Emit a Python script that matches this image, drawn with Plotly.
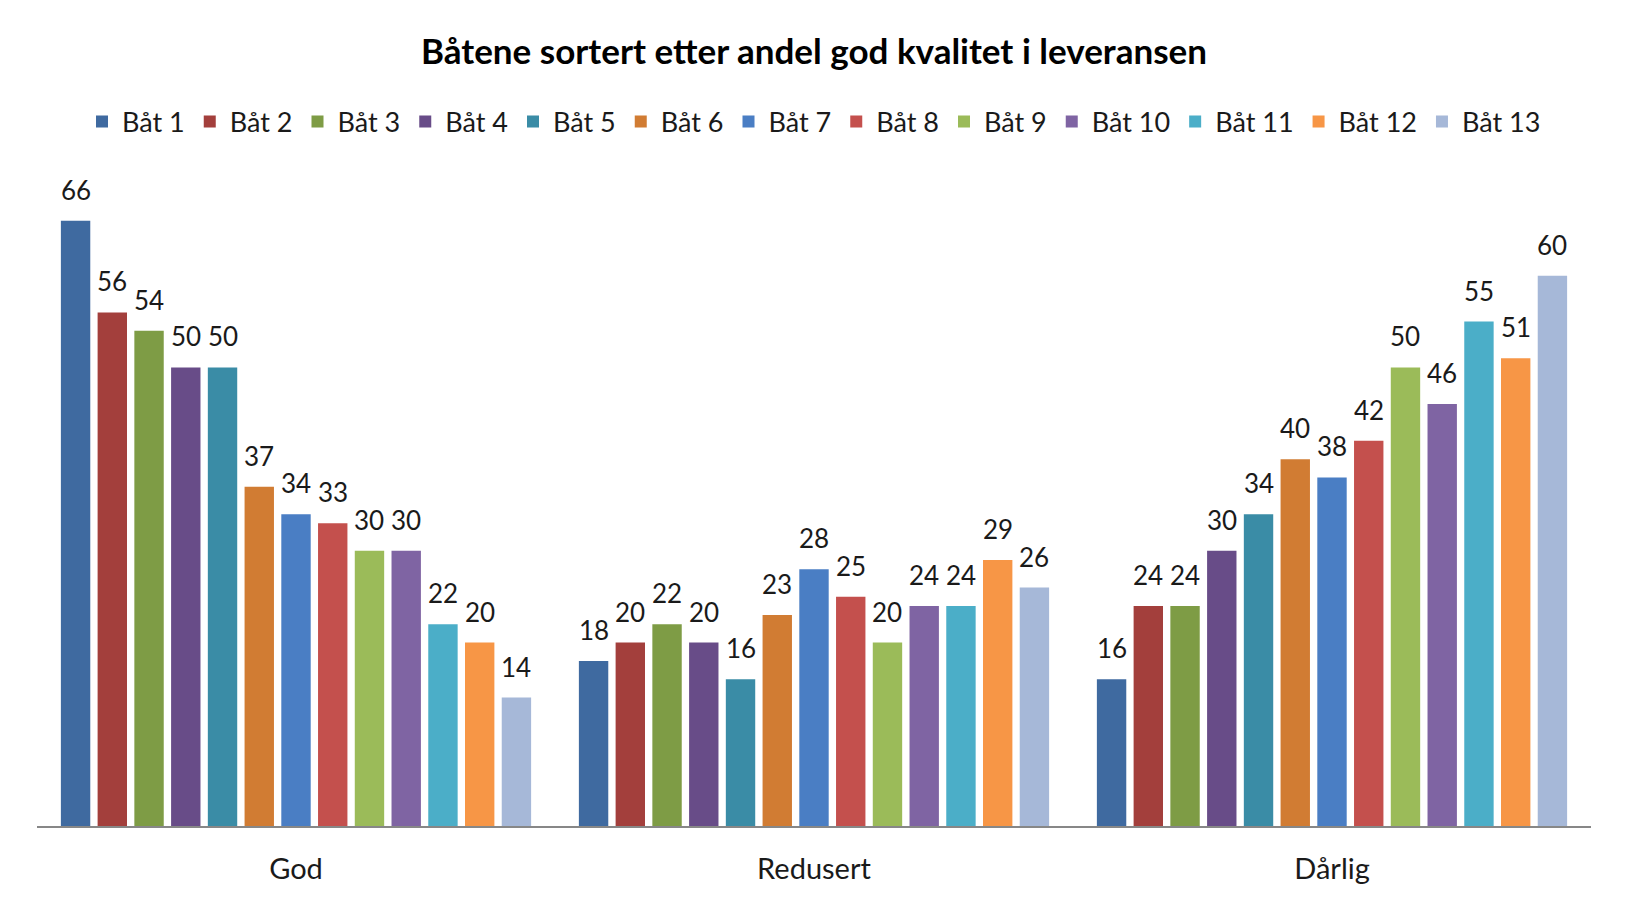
import plotly.graph_objects as go

# data
categories = ["God", "Redusert", "Dårlig"]
boats = ["Båt 1", "Båt 2", "Båt 3", "Båt 4", "Båt 5", "Båt 6", "Båt 7",
         "Båt 8", "Båt 9", "Båt 10", "Båt 11", "Båt 12", "Båt 13"]
god = [66, 56, 54, 50, 50, 37, 34, 33, 30, 30, 22, 20, 14]
redusert = [18, 20, 22, 20, 16, 23, 28, 25, 20, 24, 24, 29, 26]
darlig = [16, 24, 24, 30, 34, 40, 38, 42, 50, 46, 55, 51, 60]

colors = ["#3F6AA0", "#A33F3C", "#7E9C45", "#684C88", "#3A8CA6", "#D17C33",
          "#4A7EC4", "#C4504D", "#9BBB59", "#7F64A3", "#4BAEC8", "#F79646",
          "#A6B8D8"]

# the page body adds an 8px margin, so the figure is sized to fit inside it
W, H = 1609, 884
L, R, T, B = 29, 26, 176, 66
PW, PH = W - L - R, H - T - B
BARGAP = 0.078
BARGROUPGAP = 0.2
FONT = "Lato, 'Open Sans', sans-serif"

fig = go.Figure()

annotations = []
slot = PW / len(categories) * (1 - BARGAP) / len(boats)
for i, boat in enumerate(boats):
    vals = [god[i], redusert[i], darlig[i]]
    fig.add_trace(go.Bar(
        name=boat,
        x=categories,
        y=vals,
        marker=dict(color=colors[i], line=dict(width=0)),
        hovertemplate=f"{boat}<br>%{{x}}: %{{y}}<extra></extra>",
    ))
    # value labels above each bar
    for cat, v in zip(categories, vals):
        annotations.append(dict(
            x=cat, y=v, xref="x", yref="y",
            text=str(v), showarrow=False,
            xshift=(i - (len(boats) - 1) / 2) * slot,
            yshift=31, yanchor="middle",
            font=dict(family=FONT, size=26, color="#1a1a1a"),
        ))

fig.update_layout(
    width=W, height=H,
    margin=dict(l=L, r=R, t=T, b=B),
    paper_bgcolor="white",
    plot_bgcolor="white",
    barmode="group",
    bargap=BARGAP,
    bargroupgap=BARGROUPGAP,
    title=dict(
        text="<b>Båtene sortert etter andel god kvalitet i leveransen</b>",
        x=0.5, xanchor="center", xref="paper",
        y=1 - 44 / H, yanchor="middle", yref="container",
        font=dict(family=FONT, size=35, color="#000000"),
    ),
    legend=dict(
        orientation="h",
        x=0.5, xanchor="center",
        y=1 - 114 / H, yanchor="middle", yref="container",
        font=dict(family=FONT, size=27, color="#1a1a1a"),
        bgcolor="rgba(0,0,0,0)",
        traceorder="normal",
    ),
    xaxis=dict(
        showline=True, linecolor="#878787", linewidth=2,
        showgrid=False, ticks="", ticklabelstandoff=16, automargin=False,
        tickfont=dict(family=FONT, size=29, color="#1a1a1a"),
    ),
    yaxis=dict(
        range=[0, 70], visible=False, showgrid=False, zeroline=False,
        automargin=False,
    ),
    annotations=annotations,
    showlegend=True,
)

fig.write_html("out.html")
